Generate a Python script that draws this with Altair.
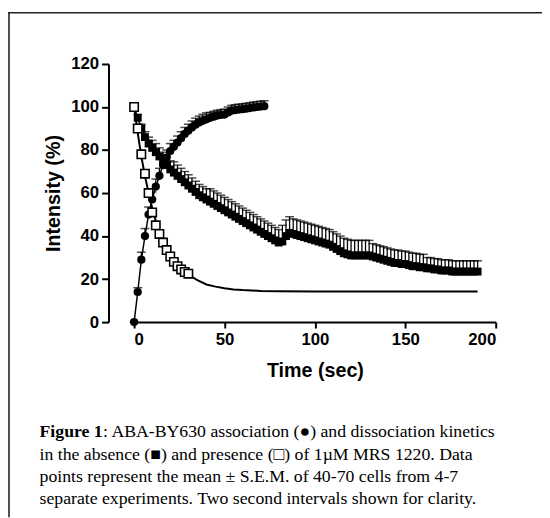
import altair as alt
import pandas as pd

# ---------------- data ----------------
assoc_t = list(range(0, 74, 2))
assoc_v = [0, 14, 29, 40, 50, 57, 63, 68, 73, 76.5, 79.5, 81.5, 83.5, 85.5, 87.5, 89,
           90.5, 91.8, 92.8, 93.6, 94.3, 95, 95.5, 96, 96.3, 96.5, 97.5, 98.3, 98.6,
           98.8, 99, 99.2, 99.5, 99.8, 100, 100.2, 100.4]
assoc_err = [0, 2, 3.5, 3.5, 3.5, 3.5, 3.5, 3.5, 3.5, 3.5, 3.5, 3, 3, 3, 3, 3, 3, 3, 3,
             3, 3, 2.5, 2.5, 2.5, 2.5, 2.5, 2.5, 2.5, 2.5, 2.5, 2.5, 2.5, 2.5, 2.5, 2.5,
             2.5, 2.5]

dis_t = list(range(0, 192, 2))
dis_v = [100, 95, 90, 86, 83, 81, 79, 77, 75, 73, 71, 69.5, 68, 66.5, 65, 63.5, 62, 60.5,
         59, 58, 57, 56, 55, 54, 53, 52, 51, 50, 49, 48, 47, 46, 45, 44, 43, 42, 41, 40,
         39, 38, 37, 37.5, 40, 41.5, 41, 40.5, 40, 39.5, 39, 38.5, 38, 37.5, 37, 36.5,
         36, 35, 34, 33, 32, 31.5, 31, 31, 31, 31, 31, 31, 30.5, 30, 29.5, 29, 28.5, 28,
         27.5, 27.5, 27, 27, 26.5, 26, 26, 25.5, 25.5, 25, 25, 24.5, 24.5, 24, 24, 24,
         23.5, 23.5, 23.5, 23.5, 23.5, 23.5, 23.5, 23.5]
dis_err = [0, 1.5, 2, 2.5, 3, 3.5, 4, 4, 4, 4, 4, 5, 5, 5, 5, 5, 5, 5, 5, 5, 5,
           6, 6, 6, 6, 6, 6, 6, 6, 6, 6, 6, 6, 6, 6, 6, 6, 6, 6, 6, 6,
           7.5, 7.5, 7.5, 7, 7, 7, 7, 7, 7, 7, 7, 7, 7, 7, 7, 7, 7, 7, 7, 7, 7, 7, 7, 7, 7,
           6, 6, 6, 6, 6, 6, 6, 6, 6, 6, 6, 6, 6, 6, 6,
           5, 5, 5, 5, 5, 5, 5, 5, 5, 5, 5, 5, 5, 5, 5]

pres_t = list(range(0, 32, 2))
pres_v = [100, 90, 78, 69, 60, 51, 45, 41, 37, 33.5, 30.5, 28, 26, 24.5, 23.3, 22.5]

fit_t = [0, 2, 4, 6, 8, 10, 12, 14, 16, 18, 20, 22, 24, 26, 28, 30, 35, 40, 45, 50, 55,
         60, 70, 80, 100, 130, 160, 190]
fit_v = [100, 88, 77, 68, 60, 53, 47, 42, 38, 34.5, 31.5, 29, 27, 25, 23.5, 22, 19.5,
         17.5, 16.5, 15.7, 15.2, 14.9, 14.5, 14.3, 14.2, 14.2, 14.2, 14.2]

x_ticks = [0, 50, 100, 150, 200]
y_ticks = [0, 20, 40, 60, 80, 100, 120]

caption_bold = "Figure 1"
caption_lines = [
    ": ABA-BY630 association (\u25cf) and dissociation kinetics",
    "in the absence (\u25a0) and presence (\u25a1) of 1\u00b5M MRS 1220.  Data",
    "points represent the mean \u00b1 S.E.M. of 40-70 cells from 4-7",
    "separate experiments.  Two second intervals shown for clarity.",
]

# ---------------- frames ----------------
assoc = pd.DataFrame({"t": assoc_t, "v": assoc_v,
                      "hi": [a + b for a, b in zip(assoc_v, assoc_err)]})
dis = pd.DataFrame({"t": dis_t, "v": dis_v,
                    "hi": [a + b for a, b in zip(dis_v, dis_err)]})
pres = pd.DataFrame({"t": pres_t, "v": pres_v})
fit = pd.DataFrame({"t": fit_t, "v": fit_v})
one = pd.DataFrame({"k": [0]})

xs = alt.Scale(domain=[0, 200], nice=False, zero=False)
ys = alt.Scale(domain=[0, 120], nice=False)
X = alt.X("t:Q", scale=xs, title="Time (sec)",
          axis=alt.Axis(values=x_ticks, tickSize=6, labelPadding=4,
                        titleY=49, titleBaseline="middle"))
Y = alt.Y("v:Q", scale=ys, title="Intensity (%)",
          axis=alt.Axis(values=y_ticks, offset=26, tickSize=7, labelPadding=3,
                        titleX=-56, titleY=131, titleBaseline="middle"))
Xn = alt.X("t:Q", scale=xs)
Yn = alt.Y("v:Q", scale=ys)
Hn = alt.Y("hi:Q", scale=ys)

BLACK = "#000000"

fit_line = alt.Chart(fit).mark_line(color=BLACK, strokeWidth=2).encode(x=X, y=Y)

dis_rule = alt.Chart(dis).mark_rule(color=BLACK, strokeWidth=1.3).encode(x=Xn, y=Yn, y2="hi:Q")
dis_cap = alt.Chart(dis).mark_tick(orient="horizontal", size=9, thickness=1.5,
                                   color=BLACK).encode(x=Xn, y=Hn)
dis_line = alt.Chart(dis).mark_line(color=BLACK, strokeWidth=1.5).encode(x=Xn, y=Yn)
dis_pts = alt.Chart(dis).mark_point(shape="square", filled=True, size=64, color=BLACK,
                                    opacity=1).encode(x=Xn, y=Yn)

as_rule = alt.Chart(assoc).mark_rule(color=BLACK, strokeWidth=1.3).encode(x=Xn, y=Yn, y2="hi:Q")
as_cap = alt.Chart(assoc).mark_tick(orient="horizontal", size=9, thickness=1.5,
                                    color=BLACK).encode(x=Xn, y=Hn)
as_line = alt.Chart(assoc).mark_line(color=BLACK, strokeWidth=1.5).encode(x=Xn, y=Yn)
as_pts = alt.Chart(assoc).mark_point(shape="circle", filled=True, size=70, color=BLACK,
                                     opacity=1).encode(x=Xn, y=Yn)

pres_pts = alt.Chart(pres).mark_point(shape="square", filled=True, size=72, fill="white",
                                      stroke=BLACK, strokeWidth=1.6,
                                      opacity=1).encode(x=Xn, y=Yn)

border_left = alt.Chart(one).mark_rule(color="#222222", strokeWidth=1.6).encode(
    x=alt.value(-127), y=alt.value(-52), y2=alt.value(460))
border_top = alt.Chart(one).mark_rule(color="#222222", strokeWidth=1.6).encode(
    x=alt.value(-128), x2=alt.value(420), y=alt.value(-52))

cap_font = dict(font="Liberation Serif", fontSize=18, color=BLACK, align="left",
                baseline="alphabetic")
cap_layers = [
    alt.Chart(one).mark_text(fontWeight="bold", **cap_font).encode(
        x=alt.value(-96), y=alt.value(379), text=alt.value(caption_bold)),
    alt.Chart(one).mark_text(**cap_font).encode(
        x=alt.value(-31.5), y=alt.value(379), text=alt.value(caption_lines[0])),
]
for i, yy in enumerate([402, 424.5, 447]):
    cap_layers.append(alt.Chart(one).mark_text(**cap_font).encode(
        x=alt.value(-96), y=alt.value(yy), text=alt.value(caption_lines[i + 1])))

chart = alt.layer(
    fit_line, border_left, border_top,
    dis_rule, dis_cap, dis_line, dis_pts,
    as_rule, as_cap, as_line, as_pts,
    pres_pts, *cap_layers
).properties(
    width=367, height=262,
    autosize=alt.AutoSizeParams(type="none"),
    padding={"left": 128, "top": 53, "right": 47, "bottom": 195},
    background="white",
).configure_view(stroke=None).configure_axis(
    grid=False, domainColor=BLACK, domainWidth=2, tickColor=BLACK, tickWidth=2,
    labelFont="Liberation Sans", labelFontWeight="bold", labelFontSize=17,
    labelColor=BLACK, titleFont="Liberation Sans", titleFontWeight="bold",
    titleFontSize=20, titleColor=BLACK,
)

chart.save("out.html", embed_options={"renderer": "svg", "actions": False})
